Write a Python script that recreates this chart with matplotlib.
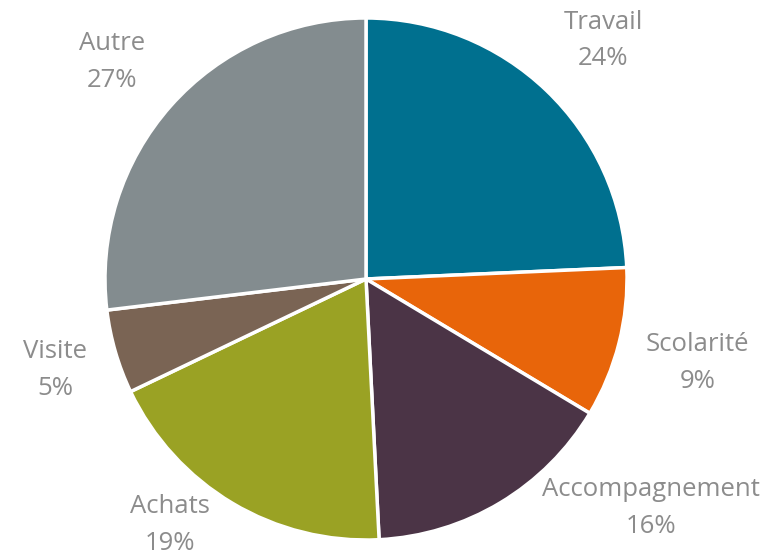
import numpy as np
import matplotlib
matplotlib.use("Agg")
import matplotlib.pyplot as plt

# --- Data ---
categories = ['Travail', 'Scolarité', 'Accompagnement', 'Achats', 'Visite', 'Autre']
shares = [24.3, 9.3, 15.6, 18.7, 5.2, 26.9]
colors = ['#00708F', '#E8650A', '#4B3446', '#9AA224', '#7A6454', '#838C8F']

# label placement: (distance in radii, angle shift in degrees)
label_pos = [(1.29, -1.1), (1.31, 0.0), (1.40, 20.2), (1.205, -7.8), (1.24, 0.1), (1.28, 1.1)]

fig = plt.figure(figsize=(7.8, 5.58), dpi=100)
ax = fig.add_axes([0, 0, 1, 1])

wedges, _ = ax.pie(shares, colors=colors, startangle=90, counterclock=False,
                   radius=1.0, wedgeprops=dict(edgecolor='white', linewidth=2.5))

for w, name, val, (dist, shift) in zip(wedges, categories, shares, label_pos):
    ang = np.deg2rad((w.theta1 + w.theta2) / 2 + shift)
    ax.text(dist * np.cos(ang), dist * np.sin(ang), f"{name}\n{val:.0f}%",
            ha='center', va='center', fontsize=18.5, color='#8C8C8C',
            family='Open Sans', linespacing=1.6)

# pie centre at (366, 279) px, radius 261 px
ax.set_xlim(-366 / 261, (780 - 366) / 261)
ax.set_ylim(-(558 - 279) / 261, 279 / 261)
ax.set_aspect('auto')
ax.axis('off')

fig.savefig('out.png', dpi=100)
